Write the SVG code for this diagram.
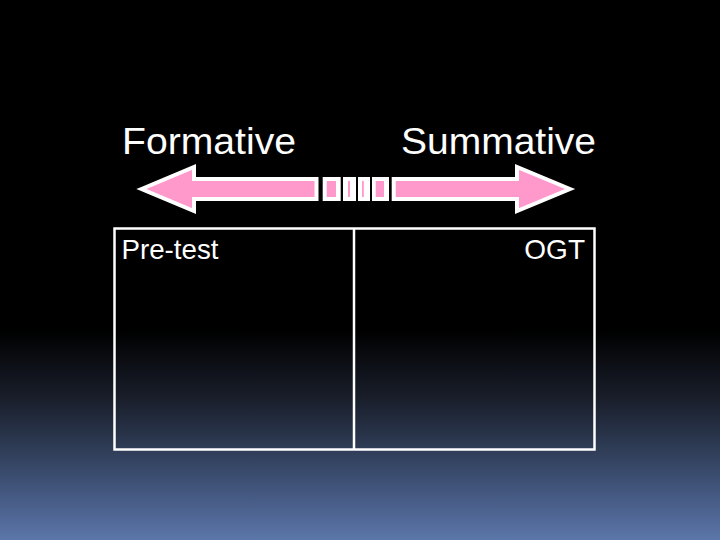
<svg xmlns="http://www.w3.org/2000/svg" width="720" height="540" viewBox="0 0 720 540">
  <defs>
    <linearGradient id="bg" gradientUnits="userSpaceOnUse" x1="0" y1="0" x2="0" y2="540">
      <stop offset="0" stop-color="#000000"/>
      <stop offset="0.611" stop-color="#000000"/>
      <stop offset="0.741" stop-color="#1a1f2c"/>
      <stop offset="0.833" stop-color="#2f3d57"/>
      <stop offset="0.926" stop-color="#475c86"/>
      <stop offset="1" stop-color="#5b76a9"/>
    </linearGradient>
  </defs>
  <style>
    .label { font-family: "Liberation Sans", Arial, sans-serif; fill: #ffffff; }
    .arrow { fill: #ff99cc; stroke: #ffffff; stroke-width: 4; stroke-linejoin: miter; stroke-miterlimit: 10; }
    .stripe-out { fill: #ffffff; }
    .stripe-in { fill: #ff99cc; }
    .box { fill: none; stroke: #ffffff; stroke-width: 2.5; }
  </style>
  <rect x="0" y="0" width="720" height="540" fill="url(#bg)"/>

  <g id="label-formative">
    <text class="label" x="122" y="154" font-size="37" textLength="174" lengthAdjust="spacingAndGlyphs">Formative</text>
  </g>
  <g id="label-summative">
    <text class="label" x="401" y="154" font-size="37" textLength="195" lengthAdjust="spacingAndGlyphs">Summative</text>
  </g>

  <g id="connectors">
    <polygon class="arrow" points="141.5,189 194,167 194,179 316.5,179 316.5,199 194,199 194,211"/>
    <polygon class="arrow" points="570,189 517,167 517,179 393.7,179 393.7,199 517,199 517,211"/>
    <rect class="stripe-out" x="322.7" y="177" width="18" height="24"/>
    <rect class="stripe-in" x="326.7" y="181" width="9.3" height="16"/>
    <rect class="stripe-out" x="343" y="177" width="13" height="24"/>
    <rect class="stripe-in" x="348" y="181" width="2" height="16"/>
    <rect class="stripe-out" x="358" y="177" width="12" height="24"/>
    <rect class="stripe-in" x="362" y="181" width="1.8" height="16"/>
    <rect class="stripe-out" x="372" y="177" width="17" height="24"/>
    <rect class="stripe-in" x="375.7" y="181" width="8.3" height="16"/>
  </g>

  <g id="table">
    <rect class="box" x="114.5" y="228.5" width="480" height="221"/>
    <line class="box" x1="354" y1="228.5" x2="354" y2="449.5"/>
  </g>
  <g id="cell-pretest">
    <text class="label" x="121.5" y="259" font-size="28" textLength="97" lengthAdjust="spacingAndGlyphs">Pre-test</text>
  </g>
  <g id="cell-ogt">
    <text class="label" x="585" y="259" font-size="28" text-anchor="end">OGT</text>
  </g>
</svg>
